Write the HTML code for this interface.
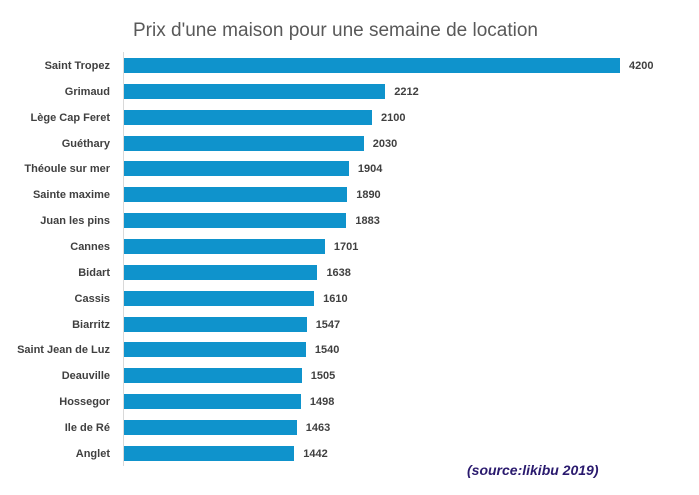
<!DOCTYPE html>
<html><head><meta charset="utf-8"><style>
body{margin:0;width:699px;height:495px;background:#fff;position:relative;overflow:hidden;font-family:"Liberation Sans",sans-serif}
.t{position:absolute;left:133px;top:20px;font-size:19px;color:#595959;white-space:nowrap}
.ax{position:absolute;left:123px;top:52px;width:1px;height:414px;background:#d9d9d9}
.r{position:absolute;left:0;height:16px}
.l{position:absolute;right:589px;width:120px;text-align:right;font-size:11px;font-weight:bold;color:#404040;top:2px;white-space:nowrap}
.b{position:absolute;left:124px;top:0;height:15px;background:#0f93cc}
.v{position:absolute;font-size:11px;font-weight:bold;color:#404040;top:2px}
.s{position:absolute;left:467px;top:462px;font-size:14px;font-weight:bold;font-style:italic;color:#2a1a6e}
</style></head><body>
<div class="t">Prix d'une maison pour une semaine de location</div>
<div class="ax"></div>
<div id="c"></div>
<div class="s">(source:likibu 2019)</div>
<script>
var d=[["Saint Tropez",4200],["Grimaud",2212],["Lège Cap Feret",2100],["Guéthary",2030],["Théoule sur mer",1904],["Sainte maxime",1890],["Juan les pins",1883],["Cannes",1701],["Bidart",1638],["Cassis",1610],["Biarritz",1547],["Saint Jean de Luz",1540],["Deauville",1505],["Hossegor",1498],["Ile de Ré",1463],["Anglet",1442]];
var h="";d.forEach(function(e,i){var y=58+i*25.85,w=e[1]*0.1181;
h+='<div class="r" style="top:'+y+'px;width:699px"><div class="l">'+e[0]+'</div><div class="b" style="width:'+w+'px"></div><div class="v" style="left:'+(124+w+9)+'px">'+e[1]+'</div></div>';});
document.getElementById("c").innerHTML=h;
</script>
</body></html>
